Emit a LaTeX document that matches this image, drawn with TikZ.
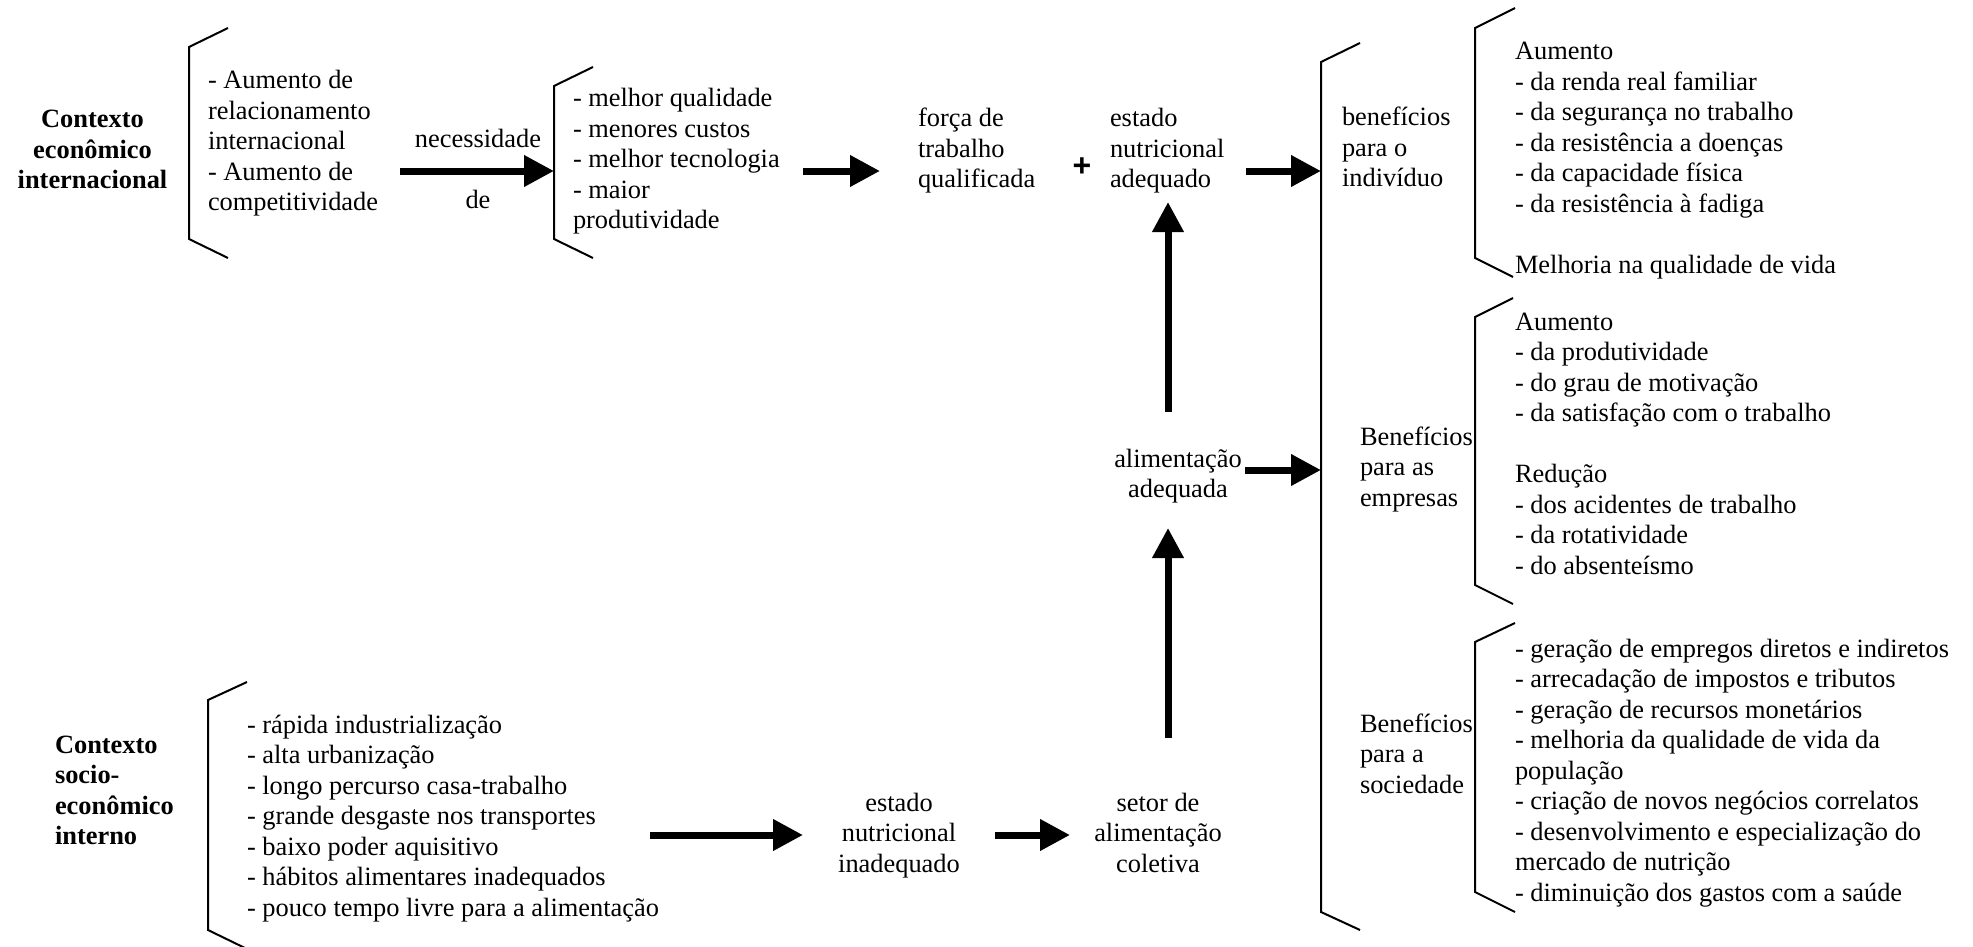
\documentclass[tikz,border=0pt]{standalone}
\usepackage{fontspec}
\setmainfont{Liberation Serif}
\newfontfamily\plusfont{Liberation Sans}
\usetikzlibrary{arrows.meta}
\begin{document}
\begin{tikzpicture}[x=1pt,y=-1pt,
  txt/.style={inner sep=0pt, outer sep=0pt, font=\fontsize{26.4}{30.5}\selectfont},
  brk/.style={line width=2pt, line join=miter},
  arr/.style={line width=7pt, -{Triangle[length=30pt,width=30pt]}}]
\useasboundingbox (0,0) rectangle (1973,947);

% ---------- top row ----------
\node[txt, anchor=base] (ctxA) at (92.5,128) {\bfseries\begin{tabular}[t]{@{}c@{}}Contexto\\econômico\\internacional\end{tabular}};
\draw[brk] (228,28) coordinate (bA1) -- (189,47) -- (189,239) -- (228,258) coordinate (bA2);
\node[txt, anchor=base west] (lstA) at (208,89) {\begin{tabular}[t]{@{}l@{}}- Aumento de\\relacionamento\\internacional\\- Aumento de\\competitividade\end{tabular}};

\node[txt, anchor=base] (nec) at (478,147) {necessidade};
\node[txt, anchor=base] (de) at (478,208) {de};
\coordinate (a1s) at (400,171);
\coordinate (bBmid) at (554,171);
\draw[arr] (a1s) -- (bBmid);

\draw[brk] (593,67) -- (554,86) -- (554,239) -- (593,258);
\node[txt, anchor=base west] (lstB) at (573,107) {\begin{tabular}[t]{@{}l@{}}- melhor qualidade\\- menores custos\\- melhor tecnologia\\- maior\\produtividade\end{tabular}};

\coordinate (a2s) at (803,171);
\coordinate (a2e) at (880,171);
\draw[arr] (a2s) -- (a2e);

\node[txt, anchor=base west] (forca) at (918,127) {\begin{tabular}[t]{@{}l@{}}força de\\trabalho\\qualificada\end{tabular}};
\node[inner sep=0pt, font=\plusfont\bfseries\fontsize{32}{32}\selectfont] (plus) at (1082,167) {+};
\node[txt, anchor=base west] (estAd) at (1110,127) {\begin{tabular}[t]{@{}l@{}}estado\\nutricional\\adequado\end{tabular}};

\coordinate (a3s) at (1246,171);
\coordinate (bCmid) at (1321,171);
\draw[arr] (a3s) -- (bCmid);

% ---------- big bracket ----------
\draw[brk] (1360,43) -- (1321,62) -- (1321,912) -- (1360,930);

\node[txt, anchor=base west] (benInd) at (1342,126) {\begin{tabular}[t]{@{}l@{}}benefícios\\para o\\indivíduo\end{tabular}};
\draw[brk] (1515,8) -- (1475,28) -- (1475,258) -- (1513,277);
\node[txt, anchor=base west] (lstD) at (1515,60) {\begin{tabular}[t]{@{}l@{}}Aumento\\- da renda real familiar\\- da segurança no trabalho\\- da resistência a doenças\\- da capacidade física\\- da resistência à fadiga\\ \\Melhoria na qualidade de vida\end{tabular}};

\node[txt, anchor=base west] (benEmp) at (1360,445) {\begin{tabular}[t]{@{}l@{}}Benefícios\\para as\\empresas\end{tabular}};
\draw[brk] (1513,298) -- (1475,317) -- (1475,585) -- (1513,604);
\node[txt, anchor=base west] (lstE) at (1515,330) {\begin{tabular}[t]{@{}l@{}}Aumento\\- da produtividade\\- do grau de motivação\\- da satisfação com o trabalho\\ \\Redução\\- dos acidentes de trabalho\\- da rotatividade\\- do absenteísmo\end{tabular}};

\node[txt, anchor=base west] (benSoc) at (1360,732) {\begin{tabular}[t]{@{}l@{}}Benefícios\\para a\\sociedade\end{tabular}};
\draw[brk] (1515,623) -- (1475,642) -- (1475,892) -- (1515,912);
\node[txt, anchor=base west] (lstF) at (1515,657) {\begin{tabular}[t]{@{}l@{}}- geração de empregos diretos e indiretos\\- arrecadação de impostos e tributos\\- geração de recursos monetários\\- melhoria da qualidade de vida da\\população\\- criação de novos negócios correlatos\\- desenvolvimento e especialização do\\mercado de nutrição\\- diminuição dos gastos com a saúde\end{tabular}};

% ---------- middle column ----------
\node[txt, anchor=base] (alim) at (1178,467) {\begin{tabular}[t]{@{}c@{}}alimentação\\adequada\end{tabular}};
\coordinate (a4s) at (1245,470);
\coordinate (bCalim) at (1321,470);
\draw[arr] (a4s) -- (bCalim);

\coordinate (v1s) at (1168,412);
\coordinate (v1e) at (1168,202);
\draw[arr] (v1s) -- (v1e);
\coordinate (v2s) at (1168,738);
\coordinate (v2e) at (1168,528);
\draw[arr] (v2s) -- (v2e);

% ---------- bottom row ----------
\node[txt, anchor=base west] (ctxB) at (55,753) {\bfseries\begin{tabular}[t]{@{}l@{}}Contexto\\socio-\\econômico\\interno\end{tabular}};
\draw[brk] (247,682) -- (208,700) -- (208,930) -- (247,949);
\node[txt, anchor=base west] (lstG) at (247,733) {\begin{tabular}[t]{@{}l@{}}- rápida industrialização\\- alta urbanização\\- longo percurso casa-trabalho\\- grande desgaste nos transportes\\- baixo poder aquisitivo\\- hábitos alimentares inadequados\\- pouco tempo livre para a alimentação\end{tabular}};

\coordinate (a5s) at (650,835);
\coordinate (a5e) at (803,835);
\draw[arr] (a5s) -- (a5e);
\node[txt, anchor=base] (estIn) at (899,811) {\begin{tabular}[t]{@{}c@{}}estado\\nutricional\\inadequado\end{tabular}};
\coordinate (a6s) at (995,835);
\coordinate (a6e) at (1070,835);
\draw[arr] (a6s) -- (a6e);
\node[txt, anchor=base] (setor) at (1158,811) {\begin{tabular}[t]{@{}c@{}}setor de\\alimentação\\coletiva\end{tabular}};
\end{tikzpicture}
\end{document}
